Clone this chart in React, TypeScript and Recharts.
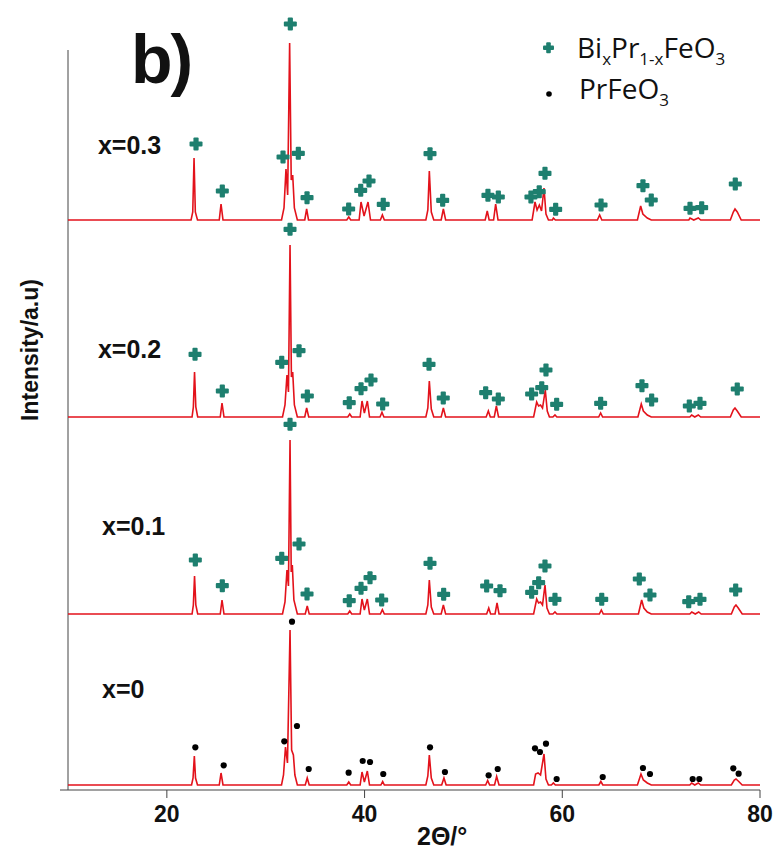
import React from "react";
import {
  ComposedChart,
  Line,
  Scatter,
  XAxis,
  YAxis,
  ReferenceLine,
} from "recharts";

// XRD patterns, [2θ, intensity above own baseline] (a.u.)
const patternX0: [number, number][] = [
  [10, 0], [22.5, 0], [22.65, 7], [22.78, 29], [22.9, 7], [23.1, 0],
  [25.3, 0], [25.48, 12], [25.68, 0],
  [31.6, 0], [31.8, 10], [32.0, 38], [32.2, 22], [32.46, 155], [32.62, 35], [32.8, 30], [32.95, 10], [33.2, 0],
  [34.0, 0], [34.2, 7], [34.4, 0],
  [38.2, 0], [38.4, 3], [38.6, 0],
  [39.55, 0], [39.74, 13], [39.98, 3], [40.28, 14], [40.5, 0],
  [41.65, 0], [41.83, 3.5], [42.0, 0],
  [46.2, 0], [46.4, 9], [46.55, 30], [46.75, 7], [47.0, 0],
  [47.8, 0], [48.03, 7], [48.25, 0],
  [52.25, 0], [52.45, 4.5], [52.65, 0], [53.15, 0], [53.36, 8.5], [53.6, 0],
  [57.1, 0], [57.3, 11], [57.55, 12], [57.8, 10], [58.15, 31], [58.35, 6], [58.6, 0],
  [58.9, 0], [59.1, 2], [59.3, 0],
  [63.7, 0], [63.9, 3.5], [64.1, 0],
  [67.6, 0], [67.96, 11], [68.2, 5], [68.6, 2], [69.0, 0],
  [72.9, 0], [73.09, 2], [73.4, 0], [73.76, 2], [74.0, 0],
  [77.1, 0], [77.4, 5], [77.57, 6], [77.8, 4], [78.2, 0],
  [80, 0],
];

const patternX01: [number, number][] = [
  [10, 0], [22.55, 0], [22.68, 9], [22.8, 38], [22.93, 9], [23.12, 0],
  [25.4, 0], [25.58, 14], [25.78, 0],
  [31.7, 0], [31.95, 12], [32.15, 44], [32.3, 28], [32.46, 174], [32.58, 42], [32.69, 49], [32.85, 14], [33.2, 0],
  [34.0, 0], [34.2, 8], [34.4, 0],
  [38.3, 0], [38.5, 3], [38.7, 0],
  [39.55, 0], [39.74, 15], [39.98, 4], [40.28, 15], [40.5, 0],
  [41.6, 0], [41.8, 4.3], [42.0, 0],
  [46.2, 0], [46.4, 9], [46.55, 34], [46.75, 7], [47.0, 0],
  [47.75, 0], [47.97, 9], [48.2, 0],
  [52.35, 0], [52.56, 6], [52.75, 0], [53.2, 0], [53.4, 11], [53.6, 0],
  [57.1, 0], [57.41, 15], [57.6, 11], [57.8, 12], [58.0, 9], [58.25, 29], [58.45, 6], [58.7, 0],
  [59.05, 0], [59.26, 2], [59.45, 0],
  [63.75, 0], [63.95, 4], [64.15, 0],
  [67.7, 0], [68.03, 14], [68.25, 6], [68.6, 2], [69.0, 0],
  [72.9, 0], [73.1, 2], [73.45, 0], [73.8, 2], [74.05, 0],
  [77.1, 0], [77.4, 7], [77.57, 9], [77.8, 6], [78.2, 0],
  [80, 0],
];

const patternX02: [number, number][] = [
  [10, 0], [22.55, 0], [22.68, 10], [22.8, 45], [22.93, 10], [23.12, 0],
  [25.4, 0], [25.58, 14], [25.78, 0],
  [31.7, 0], [31.95, 12], [32.15, 42], [32.3, 25], [32.46, 172], [32.6, 40], [32.73, 45], [32.9, 12], [33.2, 0],
  [33.95, 0], [34.14, 9], [34.35, 0],
  [38.3, 0], [38.5, 3], [38.7, 0],
  [39.55, 0], [39.74, 16], [39.98, 4], [40.28, 16], [40.5, 0],
  [41.56, 0], [41.76, 4.7], [41.96, 0],
  [46.2, 0], [46.4, 9], [46.55, 36], [46.75, 8], [47.0, 0],
  [47.75, 0], [47.97, 9], [48.2, 0],
  [52.3, 0], [52.52, 6], [52.72, 0], [53.12, 0], [53.33, 11], [53.55, 0],
  [57.1, 0], [57.41, 15], [57.6, 11], [57.8, 12], [58.0, 9], [58.28, 27], [58.48, 6], [58.7, 0],
  [59.05, 0], [59.26, 2], [59.45, 0],
  [63.68, 0], [63.88, 4], [64.08, 0],
  [67.65, 0], [67.99, 13], [68.2, 6], [68.6, 2], [69.0, 0],
  [72.9, 0], [73.09, 2], [73.4, 0], [73.76, 2], [74.0, 0],
  [77.0, 0], [77.3, 7], [77.47, 9], [77.7, 6], [78.1, 0],
  [80, 0],
];

const patternX03: [number, number][] = [
  [10, 0], [22.45, 0], [22.62, 8], [22.75, 62], [22.88, 8], [23.1, 0],
  [25.3, 0], [25.48, 16], [25.68, 0],
  [31.6, 0], [31.85, 12], [32.05, 51], [32.22, 25], [32.42, 177], [32.58, 40], [32.73, 45], [32.9, 12], [33.2, 0],
  [33.95, 0], [34.14, 11], [34.33, 0],
  [38.2, 0], [38.4, 3], [38.6, 0],
  [39.45, 0], [39.64, 18], [39.95, 4], [40.35, 18], [40.6, 0],
  [41.6, 0], [41.8, 5], [42.0, 0],
  [46.2, 0], [46.4, 10], [46.55, 49], [46.75, 8], [47.0, 0],
  [47.75, 0], [47.97, 11], [48.2, 0],
  [52.2, 0], [52.41, 9], [52.6, 0], [53.05, 0], [53.26, 16], [53.5, 0],
  [56.95, 0], [57.24, 18], [57.45, 10], [57.68, 15], [57.9, 9], [58.15, 32], [58.35, 6], [58.6, 0],
  [59.0, 0], [59.1, 2], [59.3, 0],
  [63.55, 0], [63.78, 5], [64.0, 0],
  [67.6, 0], [67.93, 14], [68.15, 6], [68.6, 2], [69.0, 0],
  [72.8, 0], [72.92, 2], [73.3, 0], [73.76, 2], [74.0, 0],
  [77.0, 0], [77.3, 8], [77.47, 11], [77.7, 8], [78.1, 0],
  [80, 0],
];

// phase markers, [2θ, height above own baseline]
const prFeO3Marks: [number, number][] = [
  [22.88, 37.7], [25.75, 19.7], [31.88, 43.7], [32.66, 163.3], [33.16, 59], [34.35, 16],
  [38.39, 12.3], [39.81, 24], [40.55, 23], [41.89, 11], [46.62, 37.7], [48.13, 13],
  [52.55, 9.7], [53.47, 16], [57.24, 36.7], [57.74, 33], [58.35, 41.3], [59.43, 6],
  [64.09, 8], [68.16, 17], [68.87, 11], [73.19, 6], [73.86, 6], [77.3, 16.7], [77.84, 11.3],
];

const bpfMarksX01: [number, number][] = [
  [22.88, 54], [25.61, 28.3], [31.62, 55.7], [32.46, 189.7], [33.37, 70], [34.18, 20],
  [38.45, 13.3], [39.64, 25.7], [40.55, 36.3], [41.73, 14], [46.62, 50.7], [48.0, 19.7],
  [52.35, 28], [53.7, 23.3], [56.9, 21.7], [57.61, 31.3], [58.25, 48], [59.26, 14.7],
  [63.99, 14.7], [67.79, 35], [68.87, 19], [72.79, 12.3], [73.93, 14.7], [77.54, 24],
];

const bpfMarksX02: [number, number][] = [
  [22.85, 62.7], [25.61, 26], [31.62, 54.7], [32.46, 187.7], [33.37, 66.3], [34.21, 21],
  [38.45, 14.3], [39.64, 28.3], [40.65, 37], [41.83, 13], [46.52, 52.7], [47.96, 19],
  [52.25, 24.3], [53.53, 18], [56.9, 23], [57.92, 29.3], [58.35, 47], [59.43, 12.7],
  [63.88, 13.7], [68.06, 31.3], [69.04, 17], [72.85, 11], [73.93, 13.7], [77.7, 28],
];

const bpfMarksX03: [number, number][] = [
  [22.95, 76], [25.61, 29], [31.75, 63], [32.49, 196], [33.3, 66.7], [34.18, 22.3],
  [38.39, 11], [39.61, 29.7], [40.45, 39], [41.89, 15.7], [46.62, 66.3], [47.9, 19.7],
  [52.48, 24.7], [53.53, 23], [56.83, 23], [57.67, 28.3], [58.25, 46.7], [59.33, 10.7],
  [63.92, 15], [68.16, 34.3], [69.0, 20], [72.92, 11.7], [74.1, 12.3], [77.5, 36],
];

// vertical stacking offsets (a.u.) for x = 0, 0.1, 0.2, 0.3
const offsets = [5, 176, 373, 570];
const sampleLabels = ["x=0", "x=0.1", "x=0.2", "x=0.3"];
const xTicks = [20, 40, 60, 80];

const RED = "#e3121b";
const TEAL = "#1e7f6f";
const BOLD_FONT = "'Liberation Sans', Arial, sans-serif";

const toRows = (pts: [number, number][], off: number) =>
  pts.map(([x, y]) => ({ x, y: y + off }));

const patterns = [patternX0, patternX01, patternX02, patternX03];
const crossSets = [bpfMarksX01, bpfMarksX02, bpfMarksX03];

const CrossShape = (props: any) => {
  const { cx, cy } = props;
  if (cx == null || cy == null) return <g />;
  const s = 6.5;
  const t = 2.6;
  return (
    <g fill={TEAL}>
      <rect x={cx - s} y={cy - t} width={2 * s} height={2 * t} rx={1} />
      <rect x={cx - t} y={cy - s} width={2 * t} height={2 * s} rx={1} />
    </g>
  );
};

const DotShape = (props: any) => {
  const { cx, cy } = props;
  if (cx == null || cy == null) return <g />;
  return <circle cx={cx} cy={cy} r={3.1} fill="#000" />;
};

// sample label anchors, [2θ, a.u.] (start of text, baseline)
const labelAnchors: [number, number][] = [
  [13.44, 92],
  [13.44, 255],
  [13.03, 432],
  [13.03, 636],
];

export default function App() {
  return (
    <div
      style={{
        position: "absolute",
        left: 0,
        top: 0,
        width: 781,
        height: 852,
        background: "#fff",
      }}
    >
      <ComposedChart
        width={781}
        height={852}
        margin={{ top: 15, right: 21, bottom: 0, left: 0 }}
      >
        <XAxis
          type="number"
          dataKey="x"
          domain={[10, 80]}
          ticks={xTicks}
          allowDataOverflow
          height={62}
          tickSize={8}
          tickMargin={8}
          stroke="#444"
          tick={{
            fontSize: 23,
            fontWeight: 700,
            fill: "#111",
            fontFamily: BOLD_FONT,
          }}
        />
        <YAxis
          type="number"
          dataKey="y"
          domain={[0, 775]}
          width={68}
          ticks={[0]}
          tickSize={8}
          tickFormatter={() => ""}
          axisLine={false}
          stroke="#444"
        />
        <ReferenceLine
          segment={[
            { x: 10, y: 0 },
            { x: 10, y: 740 },
          ]}
          stroke="#444"
          strokeWidth={1}
        />
        {patterns.map((pts, i) => (
          <Line
            key={sampleLabels[i]}
            data={toRows(pts, offsets[i])}
            dataKey="y"
            type="linear"
            stroke={RED}
            strokeWidth={1.6}
            dot={false}
            activeDot={false}
            isAnimationActive={false}
          />
        ))}
        <Scatter
          name="PrFeO3"
          data={toRows(prFeO3Marks, offsets[0])}
          dataKey="y"
          shape={DotShape}
          isAnimationActive={false}
        />
        {crossSets.map((marks, i) => (
          <Scatter
            key={"c" + i}
            name="BixPr1-xFeO3"
            data={toRows(marks, offsets[i + 1])}
            dataKey="y"
            shape={CrossShape}
            isAnimationActive={false}
          />
        ))}
        {labelAnchors.map(([x, y], i) => (
          <ReferenceLine
            key={"l" + i}
            segment={[
              { x, y },
              { x: x + 0.01, y },
            ]}
            stroke="none"
            label={(p: any) => {
              const vb = p.viewBox || {};
              return (
                <text
                  x={vb.x}
                  y={vb.y}
                  fontSize={25}
                  fontWeight={700}
                  fontFamily={BOLD_FONT}
                  fill="#111"
                >
                  {sampleLabels[i]}
                </text>
              );
            }}
          />
        ))}
      </ComposedChart>

      <svg
        width={781}
        height={852}
        style={{ position: "absolute", left: 0, top: 0, pointerEvents: "none" }}
      >
        <text
          x={131}
          y={83}
          fontSize={68}
          fontWeight={700}
          letterSpacing={-2}
          fontFamily={BOLD_FONT}
          fill="#111"
        >
          b)
        </text>

        {/* legend */}
        <g fill={TEAL}>
          <rect x={543} y={45.5} width={11} height={4.6} rx={1} />
          <rect x={546.2} y={42.3} width={4.6} height={11} rx={1} />
        </g>
        <text
          x={577}
          y={58}
          fontSize={28}
          fontFamily="'Open Sans', 'Noto Sans', sans-serif"
          fill="#111"
        >
          Bi
          <tspan fontSize={17} dy={7}>x</tspan>
          <tspan dy={-7}>Pr</tspan>
          <tspan fontSize={17} dy={7}>1-x</tspan>
          <tspan dy={-7}>FeO</tspan>
          <tspan fontSize={17} dy={7}>3</tspan>
        </text>
        <circle cx={549} cy={94} r={2.8} fill="#000" />
        <text
          x={579}
          y={99}
          fontSize={28}
          fontFamily="'Open Sans', 'Noto Sans', sans-serif"
          fill="#111"
        >
          PrFeO
          <tspan fontSize={17} dy={7}>3</tspan>
        </text>

        {/* axis titles */}
        <text
          x={38}
          y={350}
          transform="rotate(-90 38 350)"
          textAnchor="middle"
          fontSize={23}
          fontWeight={700}
          fontFamily={BOLD_FONT}
          fill="#111"
        >
          Intensity/a.u)
        </text>
        <text
          x={417}
          y={845}
          fontSize={25}
          fontWeight={700}
          fontFamily={BOLD_FONT}
          fill="#111"
        >
          2Θ/°
        </text>
      </svg>
    </div>
  );
}
